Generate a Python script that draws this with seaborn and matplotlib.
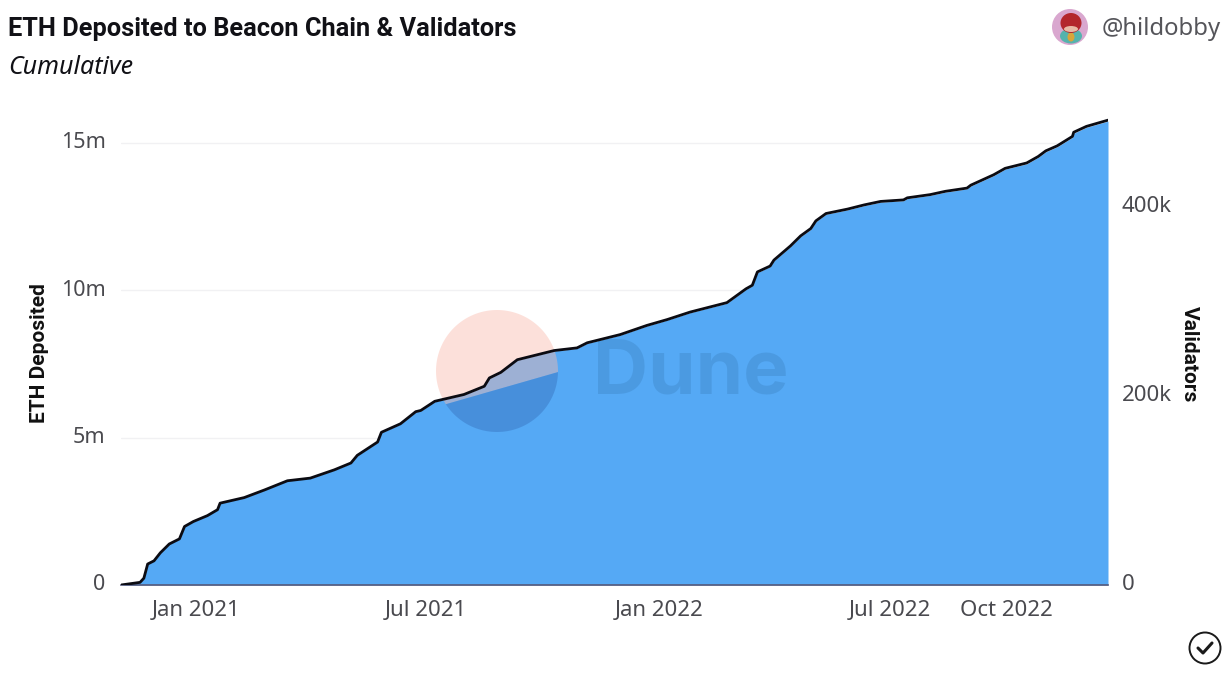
# ETH deposited to the beacon chain, cumulative

import numpy as np
import pandas as pd
import matplotlib.pyplot as plt
import seaborn as sns
from matplotlib.patches import Ellipse, Polygon
from matplotlib.transforms import ScaledTranslation

W, H = 1231, 673

dates = [
    "2020-11-03", "2020-11-18", "2020-11-21", "2020-11-24", "2020-11-29", "2020-12-04",
    "2020-12-11", "2020-12-19", "2020-12-23", "2020-12-30", "2021-01-10", "2021-01-18",
    "2021-01-20", "2021-02-08", "2021-02-24", "2021-03-14", "2021-04-01", "2021-04-20",
    "2021-05-03", "2021-05-08", "2021-05-24", "2021-05-27", "2021-06-11", "2021-06-23",
    "2021-06-27", "2021-07-08", "2021-07-31", "2021-08-16", "2021-08-20", "2021-08-29",
    "2021-09-11", "2021-10-10", "2021-10-28", "2021-11-05", "2021-12-01", "2021-12-22",
    "2022-01-07", "2022-01-25", "2022-02-23", "2022-03-10", "2022-03-15", "2022-03-19",
    "2022-03-29", "2022-04-01", "2022-04-14", "2022-04-22", "2022-04-30", "2022-05-04",
    "2022-05-12", "2022-05-29", "2022-06-11", "2022-06-24", "2022-07-12", "2022-07-15",
    "2022-08-02", "2022-08-14", "2022-08-31", "2022-09-03", "2022-09-21", "2022-09-30",
    "2022-10-17", "2022-10-26", "2022-11-01", "2022-11-10", "2022-11-22", "2022-11-23",
    "2022-12-03", "2022-12-20",
]
eth_m = [
    0.00, 0.09, 0.23, 0.71, 0.82, 1.09, 1.39, 1.56, 1.98, 2.15, 2.35, 2.55,
    2.77, 2.96, 3.22, 3.53, 3.62, 3.90, 4.13, 4.39, 4.84, 5.17, 5.46, 5.87,
    5.91, 6.22, 6.45, 6.73, 7.01, 7.20, 7.63, 7.94, 8.03, 8.20, 8.48, 8.79,
    8.99, 9.24, 9.56, 10.03, 10.15, 10.60, 10.80, 11.00, 11.48, 11.82, 12.07, 12.33,
    12.58, 12.73, 12.87, 12.99, 13.04, 13.11, 13.22, 13.33, 13.44, 13.54, 13.89, 14.11,
    14.29, 14.51, 14.70, 14.87, 15.19, 15.33, 15.53, 15.74,
]
validators_k = [
    0.0, 2.8, 7.2, 22.2, 25.6, 34.1, 43.4, 48.8, 61.9, 67.2, 73.4, 79.7,
    86.6, 92.5, 100.6, 110.3, 113.1, 121.9, 129.1, 137.2, 151.3, 161.6, 170.6, 183.4,
    184.7, 194.4, 201.6, 210.3, 219.1, 225.0, 238.4, 248.1, 250.9, 256.3, 265.0, 274.7,
    280.9, 288.8, 298.8, 313.4, 317.2, 331.3, 337.5, 343.8, 358.8, 369.4, 377.2, 385.3,
    393.1, 397.8, 402.2, 405.9, 407.5, 409.7, 413.1, 416.6, 420.0, 423.1, 434.1, 440.9,
    446.6, 453.4, 459.4, 464.7, 474.7, 479.1, 485.3, 491.9,
]
x_ticks = ["2021-01-01", "2021-07-01", "2022-01-01", "2022-07-01", "2022-10-01"]
x_labels = ["Jan 2021", "Jul 2021", "Jan 2022", "Jul 2022", "Oct 2022"]
eth_ticks = [0, 5, 10, 15]
eth_labels = ["0", "5m", "10m", "15m"]
val_ticks = [0, 200, 400]
val_labels = ["0", "200k", "400k"]

df = pd.DataFrame({"date": pd.to_datetime(dates), "eth": eth_m, "validators": validators_k})

sns.set_theme(style="white")
plt.rcParams["font.family"] = ["Noto Sans", "DejaVu Sans"]


def fx(x):
    return x / W


def fy(y):
    return 1 - y / H


fig = plt.figure(figsize=(W / 100, H / 100), dpi=100, facecolor="white")
ax = fig.add_axes([fx(121), fy(585), (1108 - 121) / W, (585 - 110) / H])
ax2 = ax.twinx()

# area on the left axis, outline on the right axis
ax.fill_between(df["date"], df["eth"], 0, color="#55a9f5", lw=0, zorder=2)
sns.lineplot(data=df, x="date", y="validators", ax=ax2, color="#0b0b12", lw=2.0, zorder=5)

ax.set_xlim(df["date"].iloc[0], df["date"].iloc[-1])
ax.set_ylim(0, (585 - 110) / 29.47)
ax2.set_ylim(0, (585 - 110) / 0.945)

ax.set_xticks(pd.to_datetime(x_ticks))
ax.set_xticklabels(x_labels)
ax.set_yticks(eth_ticks)
ax.set_yticklabels(eth_labels)
ax2.set_yticks(val_ticks)
ax2.set_yticklabels(val_labels)

ax.grid(axis="y", color="#f1f1f3", lw=1, zorder=0)
ax.set_axisbelow(True)
ax2.grid(False)
for a in (ax, ax2):
    for s in a.spines.values():
        s.set_visible(False)
ax.spines["bottom"].set_visible(True)
ax.spines["bottom"].set_color("#55597a")
ax.spines["bottom"].set_linewidth(1.2)
ax.spines["bottom"].set_zorder(6)

ax.tick_params(axis="x", length=0, pad=11, labelsize=16, labelcolor="#4a4a4f")
ax.tick_params(axis="y", length=0, pad=11, labelsize=15.5, labelcolor="#4a4a4f")
ax2.tick_params(axis="y", length=0, pad=10, labelsize=16, labelcolor="#4a4a4f")

# tick labels sit slightly above their gridlines
lift = ScaledTranslation(0, 2 / 72, fig.dpi_scale_trans)
for lab in ax.get_yticklabels() + ax2.get_yticklabels():
    lab.set_transform(lab.get_transform() + lift)

ax.set_xlabel("")
ax.set_ylabel("")
ax2.set_xlabel("")
ax2.set_ylabel("")
fig.text(fx(40), fy(353), "ETH Deposited", rotation=90, ha="center", va="center",
         fontsize=15, fontweight="bold", family="Roboto", color="#111111")
fig.text(fx(1189), fy(354), "Validators", rotation=270, ha="center", va="center",
         fontsize=15, fontweight="bold", family="Roboto", color="#111111")

# title block
fig.text(fx(8), fy(29), "ETH Deposited to Beacon Chain & Validators", ha="left", va="center",
         fontsize=18.3, fontweight="bold", family="Roboto", color="#111116")
fig.text(fx(8), fy(68), "Cumulative", ha="left", va="center",
         fontsize=18, fontstyle="italic", color="#111116")
fig.text(fx(1102), fy(29), "@hildobby", ha="left", va="center", fontsize=17.2, color="#55555a")

# Dune watermark, under the outline
cx, cy, r = 497, 371, 61
a_upper = np.radians(np.linspace(-1, 213, 80))
a_lower = np.radians(np.linspace(213, 359, 60))
upper = np.c_[fx(cx + r * np.cos(a_upper)), fy(cy - r * np.sin(a_upper))]
lower = np.c_[fx(cx + r * np.cos(a_lower)), fy(cy - r * np.sin(a_lower))]
ax.add_patch(Polygon(upper, closed=True, transform=fig.transFigure, fc="#fab9ab", alpha=0.44,
                     lw=0, zorder=3, clip_on=False))
ax.add_patch(Polygon(lower, closed=True, transform=fig.transFigure, fc="#2c5ca8", alpha=0.33,
                     lw=0, zorder=3, clip_on=False))
ax.text(fx(593), fy(374), "Dune", transform=fig.transFigure, ha="left", va="center",
        fontsize=55, fontweight="bold", family="Inter", color="#2f6fa8", alpha=0.25, zorder=3)

# avatar
fig.add_artist(Ellipse((fx(1070), fy(27)), 36 / W, 36 / H, fc="#d9a7cf", ec="none"))
fig.add_artist(Ellipse((fx(1071), fy(36)), 22 / W, 15 / H, fc="#55b3ad", ec="none"))
fig.add_artist(Ellipse((fx(1071), fy(37)), 7 / W, 9 / H, fc="#d9a53a", ec="none"))
fig.add_artist(Ellipse((fx(1071), fy(23)), 21 / W, 20 / H, fc="#b3262c", ec="none"))
fig.add_artist(Ellipse((fx(1071), fy(29)), 14 / W, 6 / H, fc="#e8b9a5", ec="none"))

# check badge, bottom right
fig.add_artist(Ellipse((fx(1205), fy(648)), 31 / W, 31 / H, fc="white", ec="#1a1a1a", lw=1.4))
fig.add_artist(plt.Line2D([fx(1198), fx(1203), fx(1212)], [fy(648), fy(653), fy(643)],
                          color="#1a1a1a", lw=2.2, solid_capstyle="round",
                          solid_joinstyle="round"))

fig.savefig("out.png", dpi=100)
